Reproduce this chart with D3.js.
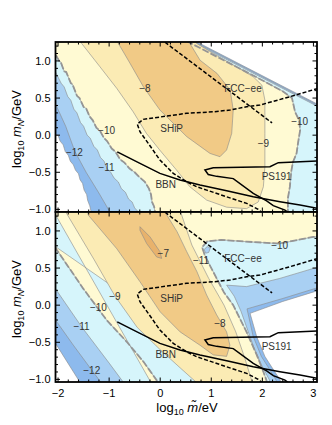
<!DOCTYPE html>
<html>
<head>
<meta charset="utf-8">
<script src="https://cdn.jsdelivr.net/npm/d3@7"></script>
<style>
body { margin: 0; background: #fff; }
text { font-family: "Liberation Sans", Arial, sans-serif; }
</style>
</head>
<body>
<svg id="chart" width="332" height="425"></svg>
<script>
// ---- data (log10 m~/eV , log10 mN/GeV) ----
const xTicks = [-2, -1, 0, 1, 2, 3];
const yTicks = [-1.0, -0.5, 0.0, 0.5, 1.0];

// upper panel: filled regions, lowest level first
const topCut = [[-2.2,1.44],[0.2,1.44],[1.9,0.836],[3.2,0.375],[3.2,-1.2],[-1.33,-1.2],[-1.35,-1.04],[-1.38,-0.95],[-1.42,-0.88],[-1.44,-0.8],[-1.49,-0.74],[-1.52,-0.65],[-1.57,-0.6],[-1.6,-0.52],[-1.66,-0.47],[-1.7,-0.4],[-1.76,-0.35],[-1.8,-0.27],[-1.86,-0.22],[-1.9,-0.13],[-1.96,-0.08],[-2.0,0.0],[-2.2,0.02]];
const topM12 = [[-2.2,1.44],[0.2,1.425],[1.9,0.821],[3.2,0.36],[3.2,-1.2],[-0.95,-1.2],[-0.98,-1.04],[-1.2,-0.78],[-1.45,-0.5],[-1.67,-0.22],[-1.85,0.12],[-2.05,0.42],[-2.2,0.45]];
const topM11 = [[-2.2,1.44],[0.2,1.41],[1.9,0.806],[3.2,0.345],[3.2,-1.2],[-0.4,-1.2],[-0.42,-1.04],[-0.5,-0.98],[-0.55,-0.9],[-0.62,-0.86],[-0.68,-0.77],[-0.76,-0.72],[-0.82,-0.63],[-0.9,-0.58],[-0.97,-0.5],[-1.04,-0.45],[-1.1,-0.35],[-1.17,-0.3],[-1.23,-0.2],[-1.3,-0.15],[-1.37,-0.04],[-1.43,0.0],[-1.5,0.12],[-1.56,0.17],[-1.63,0.3],[-1.69,0.35],[-1.75,0.47],[-1.81,0.52],[-1.88,0.65],[-1.94,0.7],[-2.05,0.85],[-2.2,0.9]];
const topEdgeL = [[-2.2,1.1],[-2.05,1.09],[-1.98,1.0],[-1.95,0.99],[-1.88,0.86],[-1.84,0.85],[-1.75,0.7],[-1.72,0.69],[-1.63,0.53],[-1.58,0.5],[-1.5,0.38],[-1.45,0.36],[-1.38,0.25],[-1.32,0.2],[-1.25,0.1],[-1.18,0.06],[-1.1,-0.04],[-1.04,-0.08],[-0.95,-0.18],[-0.88,-0.22],[-0.78,-0.33],[-0.7,-0.37],[-0.6,-0.45],[-0.5,-0.5],[-0.4,-0.57],[-0.3,-0.63],[-0.22,-0.72],[-0.18,-0.8],[-0.16,-0.9],[-0.12,-0.96],[-0.1,-1.04],[-0.1,-1.2]];
const topEdgeR = [[0.2,1.38],[1.9,0.776],[2.4,0.59],[2.58,0.5],[2.64,0.315],[2.72,0.2],[2.74,0.07],[2.7,-0.1],[2.67,-0.245],[2.6,-0.36],[2.57,-0.47],[2.55,-0.6],[2.54,-0.69],[2.5,-0.85],[2.5,-1.04],[2.5,-1.2]];
const topM9 = [[-1.56,1.4],[-1.54,1.237],[-1.18,0.922],[-0.85,0.63],[-0.53,0.316],[-0.27,0.024],[-0.01,-0.2],[0.32,-0.47],[0.58,-0.695],[0.91,-0.875],[1.3,-0.97],[1.69,-0.99],[1.92,-0.9],[2.02,-0.695],[2.05,-0.425],[2.05,0.024],[2.05,0.473],[1.99,0.675],[1.82,0.787],[1.43,0.945],[1.04,1.1],[0.71,1.237],[0.68,1.4]];
const topM8 = [[-0.84,1.4],[-0.82,1.237],[-0.59,0.967],[-0.33,0.653],[-0.005,0.338],[0.52,-0.02],[0.975,-0.246],[1.17,-0.29],[1.3,-0.2],[1.4,0.024],[1.43,0.338],[1.37,0.608],[1.11,0.833],[0.78,1.01],[0.58,1.237],[0.56,1.4]];
const topLabels = [[-1.68,-0.24,"\u221212"],[-1.05,-0.43,"\u221211"],[-1.05,0.06,"\u221210"],[-0.3,0.635,"\u22128"],[2.02,-0.107,"\u22129"],[2.73,0.18,"\u221210"]];

// lower panel
const botCut = [[-2.2,1.4],[3.2,1.4],[3.2,0.22],[2.4,0.05],[1.76,-0.11],[1.89,-0.425],[2.05,-0.69],[2.18,-0.83],[2.35,-1.01],[2.37,-1.2],[-1.55,-1.2],[-1.57,-1.04],[-2.05,-0.515],[-2.2,-0.5]];
const botM12 = [[-2.2,1.4],[3.2,1.4],[3.2,0.26],[2.4,0.09],[1.7,-0.05],[1.82,-0.42],[1.98,-0.69],[2.11,-0.83],[2.27,-1.01],[2.29,-1.2],[-1.15,-1.2],[-1.16,-1.04],[-1.34,-0.875],[-1.7,-0.54],[-2.05,-0.2],[-2.2,-0.1]];
const botM11 = [[-2.2,1.4],[3.2,1.4],[3.2,0.53],[3.0,0.495],[2.34,0.36],[1.69,0.25],[1.3,0.27],[1.45,0.12],[1.58,-0.08],[1.72,-0.35],[1.85,-0.6],[1.98,-0.8],[2.14,-1.01],[2.16,-1.2],[-0.7,-1.2],[-0.72,-1.04],[-1.0,-0.78],[-1.54,-0.29],[-2.05,0.22],[-2.2,0.3]];
const botEdgeL = [[-2.2,0.86],[-2.05,0.77],[-2.0,0.72],[-1.51,0.226],[-1.05,-0.2],[-0.66,-0.49],[-0.33,-0.76],[-0.07,-1.01],[-0.05,-1.2]];
const botEdgeR = [[3.2,0.93],[3.0,0.92],[2.34,0.83],[1.69,0.855],[1.2,0.88],[0.92,0.86],[0.82,0.78],[0.88,0.66],[1.0,0.5],[1.105,0.36],[1.25,0.17],[1.43,0.0],[1.56,-0.18],[1.69,-0.36],[1.89,-0.67],[2.0,-0.86],[2.08,-1.01],[2.1,-1.2]];
const botPocket = [[0.86,0.75],[0.92,0.79],[0.98,0.77],[0.95,0.71],[0.89,0.7]];
const botM9 = [[-1.95,1.4],[-1.85,1.255],[-1.3,0.62],[-0.886,0.123],[-0.45,-0.3],[0.0,-0.6],[0.4,-0.85],[0.7,-1.035],[0.72,-1.2],[1.8,-1.2],[1.8,-1.035],[1.65,-0.7],[1.48,-0.36],[1.25,0.0],[0.95,0.36],[0.62,0.81],[0.4,1.255],[0.35,1.4]];
const botM8 = [[-1.45,1.4],[-1.41,1.214],[-0.85,0.76],[-0.4,0.32],[0.0,-0.09],[0.39,-0.36],[0.78,-0.54],[1.04,-0.67],[1.3,-0.69],[1.365,-0.54],[1.3,-0.36],[1.105,-0.13],[0.91,0.135],[0.72,0.45],[0.52,0.72],[0.33,0.99],[0.13,1.214],[0.1,1.4]];
const botM7 = [[-0.396,1.057],[-0.2,0.92],[-0.005,0.72],[0.029,0.63],[-0.07,0.65],[-0.265,0.83],[-0.396,1.01]];
const botLabels = [[-1.34,-0.875,"\u221212"],[-1.54,-0.29,"\u221211"],[-1.21,-0.035,"\u221210"],[-0.886,0.123,"\u22129"],[0.06,0.7,"\u22127"],[1.17,-0.25,"\u22128"],[0.8,0.6,"\u221211"],[2.34,0.81,"\u221210"]];

// experiments (same in both panels)
const shipLine = [[3.2,0.652],[3.095,0.631],[2.541,0.518],[1.953,0.406],[1.693,0.383],[1.366,0.338],[1.039,0.315],[0.518,0.294],[0.126,0.257],[-0.332,0.213],[-0.449,0.15],[-0.396,0.046],[-0.234,-0.11],[-0.005,-0.335],[0.256,-0.515],[0.518,-0.628],[0.714,-0.695],[0.91,-0.74],[1.301,-0.83],[1.693,-0.919],[1.92,-1.0],[1.99,-1.04]];
const fccLine = [[0.0,1.3],[2.19,0.165]];
const bbnLine = [[-0.841,-0.224],[-0.396,-0.38],[-0.005,-0.515],[0.387,-0.605],[0.779,-0.672],[1.301,-0.749],[1.822,-0.83],[2.345,-0.897],[2.737,-0.942],[3.095,-0.987],[3.2,-1.0]];
const ps191Line = [[3.2,-0.349],[3.095,-0.349],[2.312,-0.37],[2.149,-0.426],[1.039,-0.44],[0.876,-0.47],[0.941,-0.53],[1.105,-0.555],[1.431,-0.585],[1.822,-0.785],[2.084,-0.885],[2.214,-0.95],[2.443,-1.01],[2.5,-1.04]];
const expLabels = [[1.62,0.635,"FCC\u2212ee"],[0.224,0.092,"SHiP"],[0.107,-0.66,"BBN"],[2.28,-0.56,"PS191"]];

// ---- drawing ----
const svg = d3.select("#chart");
const left = 55.5, right = 317, panelH = 170;
const x = d3.scaleLinear().domain([-2.05, 3.07]).range([left, right]);

const fillCols = {
  cut: "#8dbaed", m12: "#a9d0f3", m11: "#d6f5fb", m10: "#fffad3",
  m9: "#fbebb4", m8: "#f1ca86", m7: "#e8b26c"
};

const panels = [
  { top: 42, layers: [[topCut,"cut"],[topM12,"m12"],[topM11,"m11"],[topEdgeL.concat(topEdgeR.slice().reverse()).concat([[0.2,1.44],[-2.2,1.44]]),"m10"],[topM9,"m9"],[topM8,"m8"]],
    dashed: [topEdgeL, topEdgeR], labels: topLabels },
  { top: 212, layers: [[botCut,"cut"],[botM12,"m12"],[botM11,"m11"],[botEdgeL.slice().reverse().concat(botEdgeR.slice().reverse()).concat([[3.2,1.4],[-2.2,1.4]]),"m10"],[botPocket,"m12"],[botM9,"m9"],[botM8,"m8"],[botM7,"m7"]],
    dashed: [botEdgeL, botEdgeR], labels: botLabels }
];

panels.forEach(function (p, i) {
  const y = d3.scaleLinear().domain([-1.035, 1.255]).range([p.top + panelH, p.top]);
  const line = d3.line().x(d => x(d[0])).y(d => y(d[1]));

  svg.append("clipPath").attr("id", "clip" + i)
    .append("rect").attr("x", left).attr("y", p.top).attr("width", right - left).attr("height", panelH);

  const g = svg.append("g").attr("clip-path", "url(#clip" + i + ")");

  g.selectAll("path.region").data(p.layers).enter()
    .append("path")
    .attr("class", "region")
    .attr("d", d => line(d[0]) + "Z")
    .style("fill", d => fillCols[d[1]])
    .style("stroke", "#8a8a8a")
    .style("stroke-width", 0.6);

  g.selectAll("path.dash").data(p.dashed).enter()
    .append("path")
    .attr("d", line)
    .style("fill", "none")
    .style("stroke", "#959595")
    .style("stroke-width", 1.8)
    .style("stroke-dasharray", "7,2");

  // contour labels
  g.selectAll("text.lev").data(p.labels).enter()
    .append("text")
    .attr("x", d => x(d[0])).attr("y", d => y(d[1]) + 3.5)
    .attr("text-anchor", "middle")
    .style("font-size", "10px")
    .style("fill", "#333")
    .text(d => d[2]);

  // experiments
  [[shipLine, "4,2"], [fccLine, "4,2"], [bbnLine, null], [ps191Line, null]].forEach(function (e) {
    g.append("path").attr("d", line(e[0]))
      .style("fill", "none").style("stroke", "#000").style("stroke-width", 1.5)
      .style("stroke-dasharray", e[1]);
  });
  g.selectAll("text.exp").data(expLabels).enter()
    .append("text")
    .attr("x", d => x(d[0])).attr("y", d => y(d[1]) + 3.5)
    .attr("text-anchor", "middle")
    .style("font-size", "10px")
    .style("fill", "#333")
    .text(d => d[2]);

  // frame ticks, inward, on all sides
  const fr = svg.append("g");
  const minorX = d3.range(-2, 3.01, 0.2);
  const minorY = d3.range(-1, 1.21, 0.1);
  minorX.forEach(function (v) {
    const major = Math.abs(v - Math.round(v)) < 1e-6;
    const len = major ? 4.5 : 2.5;
    fr.append("line").attr("x1", x(v)).attr("x2", x(v)).attr("y1", p.top + panelH).attr("y2", p.top + panelH - len).style("stroke", "#000").style("stroke-width", 1);
    fr.append("line").attr("x1", x(v)).attr("x2", x(v)).attr("y1", p.top).attr("y2", p.top + len).style("stroke", "#000").style("stroke-width", 1);
  });
  minorY.forEach(function (v) {
    const major = Math.abs(v * 2 - Math.round(v * 2)) < 1e-6;
    const len = major ? 4.5 : 2.5;
    fr.append("line").attr("x1", left).attr("x2", left + len).attr("y1", y(v)).attr("y2", y(v)).style("stroke", "#000").style("stroke-width", 1);
    fr.append("line").attr("x1", right).attr("x2", right - len).attr("y1", y(v)).attr("y2", y(v)).style("stroke", "#000").style("stroke-width", 1);
  });
  fr.append("rect").attr("x", left).attr("y", p.top).attr("width", right - left).attr("height", panelH)
    .style("fill", "none").style("stroke", "#000").style("stroke-width", 1.8);

  fr.selectAll("text.yt").data(yTicks).enter()
    .append("text")
    .attr("x", left - 5).attr("y", d => y(d) + 4)
    .attr("text-anchor", "end")
    .style("font-size", "11px")
    .text(d => d3.format(".1f")(d).replace("-", "\u2212"));

  // y title
  const ty = fr.append("text")
    .attr("transform", "translate(21," + (p.top + panelH / 2 + 2) + ") rotate(-90)")
    .attr("text-anchor", "middle")
    .style("font-size", "13px");
  ty.append("tspan").text("log");
  ty.append("tspan").attr("dy", 3).style("font-size", "9px").text("10");
  ty.append("tspan").attr("dy", -3).text(" ");
  ty.append("tspan").style("font-style", "italic").text("m");
  ty.append("tspan").attr("dy", 3).style("font-size", "9px").style("font-style", "italic").text("N");
  ty.append("tspan").attr("dy", -3).text("/GeV");
});

// x tick labels and title
svg.selectAll("text.xt").data(xTicks).enter()
  .append("text")
  .attr("x", d => x(d)).attr("y", 397)
  .attr("text-anchor", "middle")
  .style("font-size", "11px")
  .text(d => String(d).replace("-", "\u2212"));

const tx = svg.append("text")
  .attr("x", 187).attr("y", 412)
  .attr("text-anchor", "middle")
  .style("font-size", "13px");
tx.append("tspan").text("log");
tx.append("tspan").attr("dy", 3).style("font-size", "9px").text("10");
tx.append("tspan").attr("dy", -3).text(" ");
tx.append("tspan").style("font-style", "italic").text("m\u0303");
tx.append("tspan").text("/eV");
</script>
</body>
</html>
